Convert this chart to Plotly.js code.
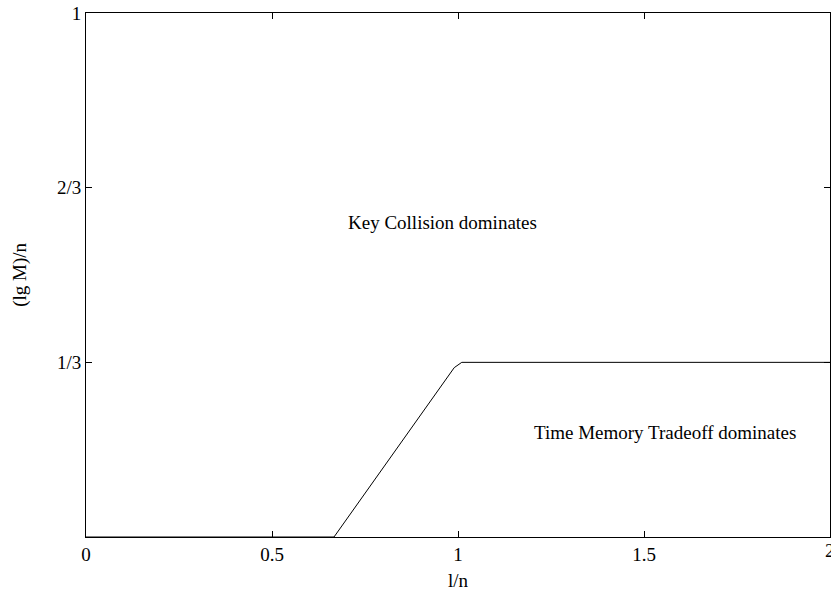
<!DOCTYPE html>
<html>
<head>
<meta charset="utf-8">
<script src="https://cdn.plot.ly/plotly-3.0.1.min.js"></script>
<style>html,body{margin:0;padding:0;background:#fff;}#chart{width:831px;height:596px;}</style>
</head>
<body>
<div id="chart"></div>
<script>
// boundary line (sampled points)
var lineX = [0, 0.6667, 0.9899, 1.0101, 2];
var lineY = [0, 0, 0.3232, 0.3333, 0.3333];
var xTickVals = [0, 0.5, 1, 1.5, 2];
var xTickText = ['0', '0.5', '1', '1.5', '2'];
var yTickVals = [1/3, 2/3, 1];
var yTickText = ['1/3', '2/3', '1'];
var labelText = ['Key Collision dominates', 'Time Memory Tradeoff dominates'];
var labelX = [0.7, 1.2];
var labelY = [0.6, 0.2];

var font = {family: 'Liberation Serif, Times New Roman, serif', size: 19, color: '#000'};

var annotations = labelText.map(function(t, i){
  return {x: labelX[i], y: labelY[i], xref: 'x', yref: 'y', text: t, showarrow: false,
          xanchor: 'left', yanchor: 'middle', font: font};
});
annotations.push({x: 0.5, y: -0.083, xref: 'paper', yref: 'paper', text: 'l/n', showarrow: false,
  xanchor: 'center', yanchor: 'middle', font: font});
annotations.push({x: -0.089, y: 0.5, xref: 'paper', yref: 'paper', text: '(lg M)/n', showarrow: false,
  xanchor: 'center', yanchor: 'middle', textangle: -90, font: font});
// last x tick label, partly outside the window as in the reference
annotations.push({x: xTickVals[4], y: -0.0265, xref: 'x', yref: 'paper', text: xTickText[4], showarrow: false,
  xanchor: 'center', yanchor: 'middle', font: font});

Plotly.newPlot('chart', [{
  x: lineX, y: lineY, type: 'scatter', mode: 'lines',
  line: {color: '#000', width: 1}, hoverinfo: 'skip', showlegend: false
}], {
  width: 831, height: 596,
  margin: {l: 86, r: 1, t: 13, b: 59},
  paper_bgcolor: '#fff', plot_bgcolor: '#fff',
  font: font,
  showlegend: false,
  xaxis: {range: [0, 2], tickvals: xTickVals, ticktext: xTickText, ticks: 'inside', ticklen: 6,
          tickcolor: '#000', showline: true, linecolor: '#000', linewidth: 1, mirror: 'allticks',
          showgrid: false, zeroline: false, tickfont: font},
  yaxis: {range: [0, 1], tickvals: yTickVals, ticktext: yTickText, ticks: 'inside', ticklen: 6,
          tickcolor: '#000', showline: true, linecolor: '#000', linewidth: 1, mirror: 'allticks',
          showgrid: false, zeroline: false, tickfont: font},
  annotations: annotations
}, {staticPlot: true});
</script>
</body>
</html>
